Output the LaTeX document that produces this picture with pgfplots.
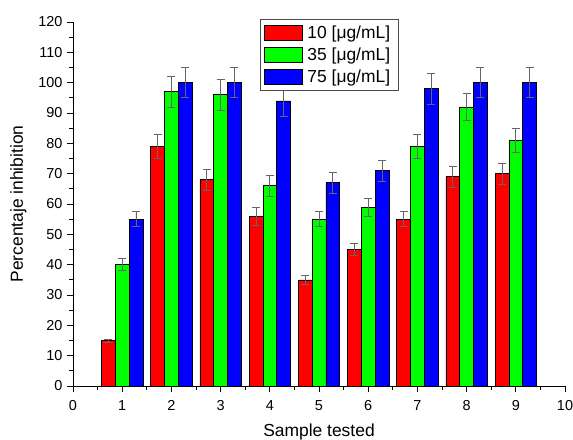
\documentclass[border=0pt]{standalone}
\usepackage{fontspec}
\setmainfont{Liberation Sans}
\usepackage{pgfplots}
\pgfplotsset{compat=1.18}
\begin{document}
\begin{tikzpicture}
\begin{axis}[
  at={(0,0)}, anchor=south west,
  scale only axis, width=492bp, height=364bp,
  xmin=0, xmax=10, ymin=0, ymax=120,
  axis lines=left, axis line style={-, line width=1pt},
  xtick={0,...,10}, ytick={0,10,...,120},
  minor xtick={0.5,1.5,...,9.5}, minor ytick={5,15,...,115},
  tick align=outside, tick style={black, line width=0.8pt},
  major tick length=6bp, minor tick length=3.5bp,
  /pgf/number format/assume math mode=true,
  tick label style={font=\fontsize{14.5}{16}\selectfont},
  xticklabel style={yshift=-5bp},
  yticklabel style={xshift=-1bp},
  xlabel={Sample tested}, ylabel={Percentaje inhibition},
  label style={font=\fontsize{17.5}{19}\selectfont},
  xlabel style={yshift=-6bp},
  ylabel style={yshift=5bp},
  ybar=0pt, bar width=13.8bp,
  legend style={at={(0.381,1.008)}, anchor=north west, draw=black!70, line width=0.8pt,
    font=\fontsize{17.5}{18}\selectfont, row sep=4bp, inner xsep=3bp, inner ysep=4.5bp,
    cells={anchor=west}, nodes={inner xsep=5bp}},
  legend image code/.code={\draw[#1, draw=black] (0bp,-7.5bp) rectangle (38bp,7.5bp);},
  error bars/error bar style={black!60, line width=0.7pt},
  error bars/error mark options={rotate=90, black!60, mark size=4bp, line width=0.7pt},
]
\addplot[fill=red, draw=black, line width=0.6pt, error bars/.cd, y dir=both, y explicit] coordinates {
  (1,15) +- (0,0.5)
  (2,79) +- (0,4)
  (3,68) +- (0,3.5)
  (4,56) +- (0,3)
  (5,35) +- (0,1.5)
  (6,45) +- (0,2)
  (7,55) +- (0,2.5)
  (8,69) +- (0,3.5)
  (9,70) +- (0,3.5)
};
\addplot[fill=green, draw=black, line width=0.6pt, error bars/.cd, y dir=both, y explicit] coordinates {
  (1,40) +- (0,2)
  (2,97) +- (0,5)
  (3,96) +- (0,5)
  (4,66) +- (0,3.5)
  (5,55) +- (0,2.5)
  (6,59) +- (0,3)
  (7,79) +- (0,4)
  (8,92) +- (0,4.5)
  (9,81) +- (0,4)
};
\addplot[fill=blue, draw=black, line width=0.6pt, error bars/.cd, y dir=both, y explicit] coordinates {
  (1,55) +- (0,2.5)
  (2,100) +- (0,5)
  (3,100) +- (0,5)
  (4,94) +- (0,5)
  (5,67) +- (0,3.5)
  (6,71) +- (0,3.5)
  (7,98) +- (0,5)
  (8,100) +- (0,5)
  (9,100) +- (0,5)
};
\legend{10 [μg/mL], 35 [μg/mL], 75 [μg/mL]}
\end{axis}
\pgfresetboundingbox
\path[use as bounding box] (-73bp,-54bp) rectangle (500bp,386bp);
\end{tikzpicture}
\end{document}
